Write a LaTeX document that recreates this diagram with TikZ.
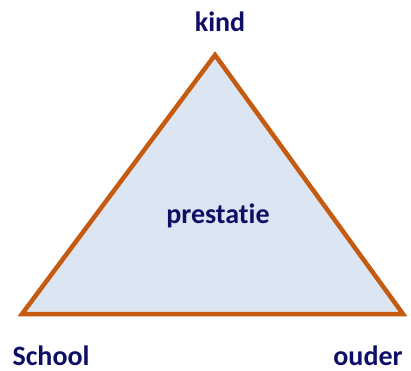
\documentclass[tikz,border=0pt]{standalone}
\usepackage{fontspec}
\setmainfont[Ligatures={NoCommon}]{Carlito}
\definecolor{edge}{HTML}{C55A11}
\definecolor{fillb}{HTML}{DCE6F2}
\definecolor{navy}{HTML}{0E0E66}
\begin{document}
\begin{tikzpicture}[x=1pt,y=1pt,
  lbl/.style={text=navy,font=\fontsize{28}{32}\selectfont\bfseries,inner sep=0pt,anchor=base}]
\useasboundingbox (0,0) rectangle (411,370);
\coordinate (A) at (215,315);
\coordinate (B) at (22,56);
\coordinate (C) at (403,56);
\draw[edge,fill=fillb,line width=4.5pt,line join=miter] (A) -- (B) -- (C) -- cycle;
\node[lbl] (kind) at (220,338) {kind};
\node[lbl] (school) at (51,5) {School};
\node[lbl] (ouder) at (368,5) {ouder};
\node[lbl] (prest) at (218,147) {prestatie};
\end{tikzpicture}
\end{document}
